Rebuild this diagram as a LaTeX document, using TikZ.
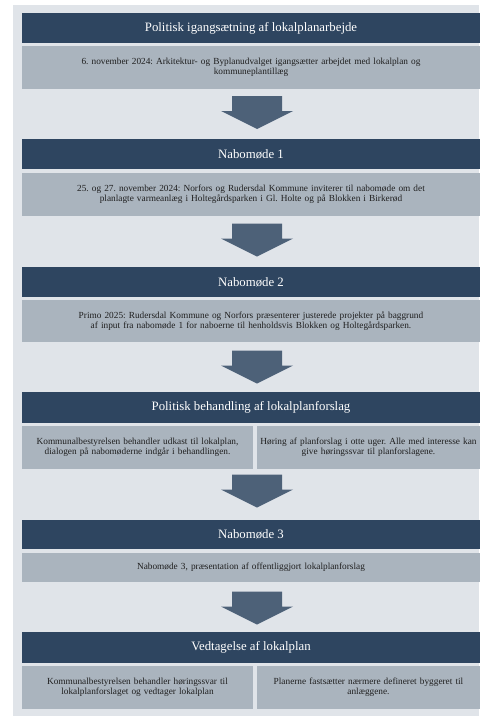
\documentclass[tikz,border=0pt]{standalone}
\usepackage{fontspec}
\setmainfont{Liberation Serif}
\definecolor{headblue}{HTML}{2E4560}
\definecolor{infogray}{HTML}{AAB4BE}
\definecolor{panelgray}{HTML}{E0E4E9}
\definecolor{arrowblue}{HTML}{4D6178}
\frenchspacing

\begin{document}
\begin{tikzpicture}[x=1pt,y=-1pt,
	head/.style={fill=headblue,text=white,minimum width=458pt,minimum height=30pt,inner sep=0pt,font=\fontsize{12.8}{14}\selectfont},
	info/.style={fill=infogray,text=black!88,text width=458pt,minimum height=43pt,inner sep=0pt,align=center,font=\fontsize{9.3}{10.2}\selectfont},
	stepdown/.pic={\fill[arrowblue] (-25,-16.5) -- (25,-16.5) -- (25,-1.5) -- (36,-1.5) -- (0,16.5) -- (-36,-1.5) -- (-25,-1.5) -- cycle;}]
				\useasboundingbox (0,0) rectangle (479,717);
				\fill[panelgray] (13,5) rectangle (479,716);

				\node[head] (h1) at (251,28) {Politisk igangsætning af lokalplanarbejde};
				\node[info] (i1) at (251,67.25) {6. november 2024: Arkitektur- og Byplanudvalget igangsætter arbejdet med lokalplan og\\ kommuneplantillæg};
				\pic (a1) at (257,112.5) {stepdown};

				\node[head] (h2) at (251,154) {Nabomøde 1};
				\node[info] (i2) at (251,194.5) {25. og 27. november 2024: Norfors og Rudersdal Kommune inviterer til nabomøde om det\\ planlagte varmeanlæg i Holtegårdsparken i Gl. Holte og på Blokken i Birkerød};
				\pic (a2) at (257,240) {stepdown};

				\node[head] (h3) at (251,282) {Nabomøde 2};
				\node[info,minimum height=42pt] (i3) at (251,321) {Primo 2025: Rudersdal Kommune og Norfors præsenterer justerede projekter på baggrund\\ af input fra nabomøde 1 for naboerne til henholdsvis Blokken og Holtegårdsparken.};
				\pic (a3) at (257,367) {stepdown};

				\node[head,minimum height=31pt] (h4) at (251,407.5) {Politisk behandling af lokalplanforslag};
				\node[info,text width=231pt] (i4a) at (137.5,447.5) {Kommunalbestyrelsen behandler udkast til lokalplan,\\ dialogen på nabomøderne indgår i behandlingen.};
				\node[info,text width=223pt] (i4b) at (368.5,447.5) {Høring af planforslag i otte uger. Alle med interesse kan\\ give høringssvar til planforslagene.};
				\pic (a4) at (257,491) {stepdown};

				\node[head,minimum height=29pt] (h5) at (251,534.5) {Nabomøde 3};
				\node[info,minimum height=29pt] (i5) at (251,567.5) {Nabomøde 3, præsentation af offentliggjort lokalplanforslag};
				\pic (a5) at (257,608) {stepdown};

				\node[head,minimum height=31pt] (h6) at (251,647.5) {Vedtagelse af lokalplan};
				\node[info,text width=231pt] (i6a) at (137.5,687.5) {Kommunalbestyrelsen behandler høringssvar til\\ lokalplanforslaget og vedtager lokalplan};
				\node[info,text width=223pt] (i6b) at (368.5,687.5) {Planerne fastsætter nærmere defineret byggeret til\\ anlæggene.};
			\end{tikzpicture}
\end{document}
